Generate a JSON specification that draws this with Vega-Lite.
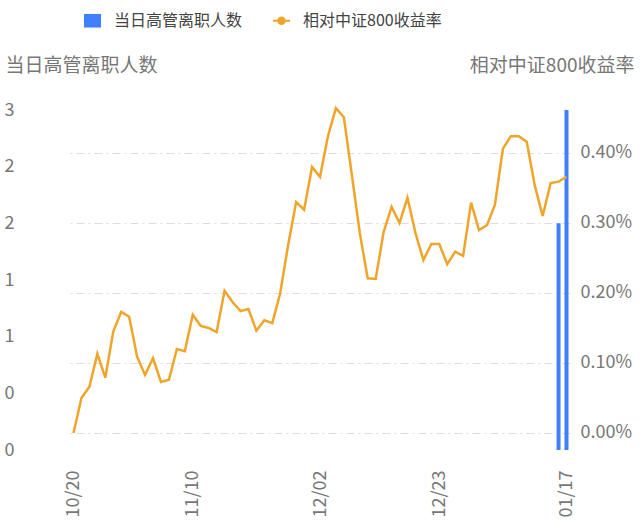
{
  "$schema": "https://vega.github.io/schema/vega-lite/v6.json",
  "width": 500,
  "height": 340,
  "autosize": {"type": "none"},
  "padding": {"left": 70, "top": 110, "right": 70, "bottom": 76},
  "config": {"view": {"stroke": null}, "font": "Noto Sans CJK SC"},
  "data": {"values": [
    {"d": "10/20", "ret": 0.00000, "n": 0},
    {"d": "10/21", "ret": 0.00050, "n": 0},
    {"d": "10/24", "ret": 0.00066, "n": 0},
    {"d": "10/25", "ret": 0.00113, "n": 0},
    {"d": "10/26", "ret": 0.00079, "n": 0},
    {"d": "10/27", "ret": 0.00145, "n": 0},
    {"d": "10/28", "ret": 0.00173, "n": 0},
    {"d": "10/31", "ret": 0.00166, "n": 0},
    {"d": "11/01", "ret": 0.00109, "n": 0},
    {"d": "11/02", "ret": 0.00083, "n": 0},
    {"d": "11/03", "ret": 0.00107, "n": 0},
    {"d": "11/04", "ret": 0.00073, "n": 0},
    {"d": "11/07", "ret": 0.00076, "n": 0},
    {"d": "11/08", "ret": 0.00120, "n": 0},
    {"d": "11/09", "ret": 0.00117, "n": 0},
    {"d": "11/10", "ret": 0.00169, "n": 0},
    {"d": "11/11", "ret": 0.00153, "n": 0},
    {"d": "11/14", "ret": 0.00150, "n": 0},
    {"d": "11/15", "ret": 0.00144, "n": 0},
    {"d": "11/16", "ret": 0.00203, "n": 0},
    {"d": "11/17", "ret": 0.00187, "n": 0},
    {"d": "11/18", "ret": 0.00174, "n": 0},
    {"d": "11/21", "ret": 0.00177, "n": 0},
    {"d": "11/22", "ret": 0.00146, "n": 0},
    {"d": "11/23", "ret": 0.00161, "n": 0},
    {"d": "11/24", "ret": 0.00157, "n": 0},
    {"d": "11/25", "ret": 0.00200, "n": 0},
    {"d": "11/28", "ret": 0.00269, "n": 0},
    {"d": "11/29", "ret": 0.00330, "n": 0},
    {"d": "11/30", "ret": 0.00319, "n": 0},
    {"d": "12/01", "ret": 0.00380, "n": 0},
    {"d": "12/02", "ret": 0.00366, "n": 0},
    {"d": "12/05", "ret": 0.00424, "n": 0},
    {"d": "12/06", "ret": 0.00464, "n": 0},
    {"d": "12/07", "ret": 0.00451, "n": 0},
    {"d": "12/08", "ret": 0.00369, "n": 0},
    {"d": "12/09", "ret": 0.00286, "n": 0},
    {"d": "12/12", "ret": 0.00221, "n": 0},
    {"d": "12/13", "ret": 0.00220, "n": 0},
    {"d": "12/14", "ret": 0.00287, "n": 0},
    {"d": "12/15", "ret": 0.00323, "n": 0},
    {"d": "12/16", "ret": 0.00300, "n": 0},
    {"d": "12/19", "ret": 0.00336, "n": 0},
    {"d": "12/20", "ret": 0.00286, "n": 0},
    {"d": "12/21", "ret": 0.00247, "n": 0},
    {"d": "12/22", "ret": 0.00270, "n": 0},
    {"d": "12/23", "ret": 0.00270, "n": 0},
    {"d": "12/26", "ret": 0.00241, "n": 0},
    {"d": "12/27", "ret": 0.00259, "n": 0},
    {"d": "12/28", "ret": 0.00253, "n": 0},
    {"d": "12/29", "ret": 0.00329, "n": 0},
    {"d": "12/30", "ret": 0.00290, "n": 0},
    {"d": "01/03", "ret": 0.00297, "n": 0},
    {"d": "01/04", "ret": 0.00326, "n": 0},
    {"d": "01/05", "ret": 0.00406, "n": 0},
    {"d": "01/06", "ret": 0.00424, "n": 0},
    {"d": "01/09", "ret": 0.00424, "n": 0},
    {"d": "01/10", "ret": 0.00416, "n": 0},
    {"d": "01/11", "ret": 0.00354, "n": 0},
    {"d": "01/12", "ret": 0.00310, "n": 0},
    {"d": "01/13", "ret": 0.00357, "n": 0},
    {"d": "01/16", "ret": 0.00359, "n": 2},
    {"d": "01/17", "ret": 0.00366, "n": 3}
  ]},
  "layer": [
    {
      "mark": {"type": "bar", "size": 4, "color": "#4080ff"},
      "encoding": {
        "x": {"field": "d", "type": "ordinal", "sort": null,
          "scale": {"type": "point", "padding": 0.44},
          "axis": {"values": ["10/20", "11/10", "12/02", "12/23", "01/17"], "labelAngle": -90, "labelFontSize": 18, "labelColor": "#777", "ticks": false, "domain": false, "grid": false, "labelPadding": 20, "title": null}},
        "y": {"field": "n", "type": "quantitative",
          "scale": {"domain": [0, 3], "nice": false},
          "axis": {"orient": "left", "values": [0, 0.5, 1, 1.5, 2, 2.5, 3], "labelExpr": "'' + floor(datum.value)", "domain": false, "ticks": false, "grid": false, "labelFontSize": 18, "labelColor": "#777", "labelPadding": 56,
            "title": "当日高管离职人数", "titleAngle": 0, "titleAlign": "left", "titleBaseline": "middle", "titleX": -65, "titleY": -45, "titleFontSize": 19, "titleFontWeight": "normal", "titleColor": "#777"}}
      }
    },
    {
      "mark": {"type": "line", "color": "#f0a52a", "strokeWidth": 2.5},
      "encoding": {
        "x": {"field": "d", "type": "ordinal", "sort": null},
        "y": {"field": "ret", "type": "quantitative",
          "scale": {"domain": [-0.000243, 0.004614], "nice": false, "zero": false},
          "axis": {"orient": "right", "values": [0, 0.001, 0.002, 0.003, 0.004], "format": ".2%", "grid": true, "gridColor": "#dddddd", "gridDash": [8, 4, 2, 4], "domain": false, "ticks": false, "labelPadding": 10, "labelFontSize": 18, "labelColor": "#777",
            "title": "相对中证800收益率", "titleAngle": 0, "titleAlign": "right", "titleBaseline": "middle", "titleX": 64, "titleY": -45, "titleFontSize": 19, "titleFontWeight": "normal", "titleColor": "#777"}}
      }
    },
    {
      "data": {"values": [{"s": "当日高管离职人数"}, {"s": "相对中证800收益率"}]},
      "mark": {"type": "point", "opacity": 0, "filled": true},
      "encoding": {
        "color": {"field": "s", "type": "nominal",
          "scale": {"domain": ["当日高管离职人数", "相对中证800收益率"], "range": ["#4080ff", "#f0a52a"]},
          "legend": {"orient": "none", "legendX": 14, "legendY": -98, "direction": "horizontal", "title": null, "labelFontSize": 16, "labelColor": "#444", "symbolSize": 289, "symbolOpacity": 1, "symbolStrokeWidth": 0, "columnPadding": 30, "labelOffset": 13,
            "encode": {"symbols": {"update": {"opacity": {"value": 1}, "fillOpacity": {"value": 1}, "size": {"value": 289}}}}}},
        "shape": {"field": "s", "type": "nominal",
          "scale": {"domain": ["当日高管离职人数", "相对中证800收益率"], "range": ["M-1,-0.8H1V0.8H-1Z", "M-1,-0.13H1V0.13H-1Z M0.5,0A0.5,0.5,0,1,1,-0.5,0A0.5,0.5,0,1,1,0.5,0Z"]}}
      }
    }
  ],
  "resolve": {"scale": {"y": "independent"}}
}
